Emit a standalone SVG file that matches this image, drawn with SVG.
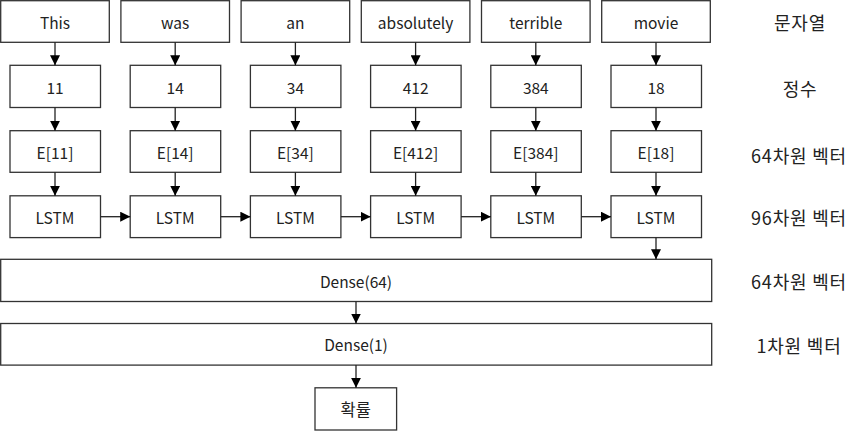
<svg xmlns="http://www.w3.org/2000/svg" width="868" height="431" viewBox="0 0 868 431">
  <style>
    .box { fill: #ffffff; stroke: #333333; stroke-width: 1.3; }
    .lbl { font-family: "Noto Sans CJK KR", "Noto Sans", "Liberation Sans", sans-serif; font-size: 15.5px; fill: #222222; text-anchor: middle; dominant-baseline: central; }
    .side { font-family: "Noto Sans CJK KR", "Noto Sans", sans-serif; font-size: 18px; letter-spacing: 0.8px; fill: #222222; text-anchor: middle; dominant-baseline: central; }
    .edge { stroke: #222222; stroke-width: 1.3; fill: none; marker-end: url(#head); }
  </style>
  <defs>
    <marker id="head" markerUnits="userSpaceOnUse" viewBox="0 0 10 10" refX="10" refY="5" markerWidth="10" markerHeight="10" orient="auto">
      <path d="M0,0 L10,5 L0,10 z" fill="#000000"/>
    </marker>
  </defs>

  <rect width="868" height="431" fill="#ffffff"/>

  <!-- word row -->
  <g id="w0"><rect class="box" x="0.7" y="0.7" width="108.6" height="41.6"/><text class="lbl" x="55" y="21.5">This</text></g>
  <g id="w1"><rect class="box" x="120.9" y="0.7" width="108.6" height="41.6"/><text class="lbl" x="175.2" y="21.5">was</text></g>
  <g id="w2"><rect class="box" x="241.1" y="0.7" width="108.6" height="41.6"/><text class="lbl" x="295.4" y="21.5">an</text></g>
  <g id="w3"><rect class="box" x="361.3" y="0.7" width="108.6" height="41.6"/><text class="lbl" x="415.6" y="21.5">absolutely</text></g>
  <g id="w4"><rect class="box" x="481.5" y="0.7" width="108.6" height="41.6"/><text class="lbl" x="535.8" y="21.5">terrible</text></g>
  <g id="w5"><rect class="box" x="601.7" y="0.7" width="108.6" height="41.6"/><text class="lbl" x="656" y="21.5">movie</text></g>

  <!-- integer row -->
  <g id="n0"><rect class="box" x="10" y="65.3" width="90.5" height="42.2"/><text class="lbl" x="55" y="86.5">11</text></g>
  <g id="n1"><rect class="box" x="130.2" y="65.3" width="90.5" height="42.2"/><text class="lbl" x="175.2" y="86.5">14</text></g>
  <g id="n2"><rect class="box" x="250.4" y="65.3" width="90.5" height="42.2"/><text class="lbl" x="295.4" y="86.5">34</text></g>
  <g id="n3"><rect class="box" x="370.6" y="65.3" width="90.5" height="42.2"/><text class="lbl" x="415.6" y="86.5">412</text></g>
  <g id="n4"><rect class="box" x="490.8" y="65.3" width="90.5" height="42.2"/><text class="lbl" x="535.8" y="86.5">384</text></g>
  <g id="n5"><rect class="box" x="611" y="65.3" width="90.5" height="42.2"/><text class="lbl" x="656" y="86.5">18</text></g>

  <!-- embedding row -->
  <g id="e0"><rect class="box" x="10" y="130.7" width="90.5" height="41.6"/><text class="lbl" x="55" y="151.5">E[11]</text></g>
  <g id="e1"><rect class="box" x="130.2" y="130.7" width="90.5" height="41.6"/><text class="lbl" x="175.2" y="151.5">E[14]</text></g>
  <g id="e2"><rect class="box" x="250.4" y="130.7" width="90.5" height="41.6"/><text class="lbl" x="295.4" y="151.5">E[34]</text></g>
  <g id="e3"><rect class="box" x="370.6" y="130.7" width="90.5" height="41.6"/><text class="lbl" x="415.6" y="151.5">E[412]</text></g>
  <g id="e4"><rect class="box" x="490.8" y="130.7" width="90.5" height="41.6"/><text class="lbl" x="535.8" y="151.5">E[384]</text></g>
  <g id="e5"><rect class="box" x="611" y="130.7" width="90.5" height="41.6"/><text class="lbl" x="656" y="151.5">E[18]</text></g>

  <!-- LSTM row -->
  <g id="l0"><rect class="box" x="10" y="195.8" width="90.5" height="41.8"/><text class="lbl" x="55" y="216.7">LSTM</text></g>
  <g id="l1"><rect class="box" x="130.2" y="195.8" width="90.5" height="41.8"/><text class="lbl" x="175.2" y="216.7">LSTM</text></g>
  <g id="l2"><rect class="box" x="250.4" y="195.8" width="90.5" height="41.8"/><text class="lbl" x="295.4" y="216.7">LSTM</text></g>
  <g id="l3"><rect class="box" x="370.6" y="195.8" width="90.5" height="41.8"/><text class="lbl" x="415.6" y="216.7">LSTM</text></g>
  <g id="l4"><rect class="box" x="490.8" y="195.8" width="90.5" height="41.8"/><text class="lbl" x="535.8" y="216.7">LSTM</text></g>
  <g id="l5"><rect class="box" x="611" y="195.8" width="90.5" height="41.8"/><text class="lbl" x="656" y="216.7">LSTM</text></g>

  <!-- dense layers and output -->
  <g id="dense64"><rect class="box" x="0.7" y="259.3" width="711" height="42.2"/><text class="lbl" x="356" y="280.5">Dense(64)</text></g>
  <g id="dense1"><rect class="box" x="0.7" y="323.5" width="711" height="41.6"/><text class="lbl" x="356" y="344.3">Dense(1)</text></g>
  <g id="prob"><rect class="box" x="315" y="387.8" width="81.6" height="42.2"/><text class="lbl" x="355.8" y="408.8" style="font-size:16.5px">확률</text></g>

  <!-- side annotations -->
  <g id="annotations">
    <text class="side" x="800" y="22">문자열</text>
    <text class="side" x="800" y="88">정수</text>
    <text class="side" x="799" y="155">64차원 벡터</text>
    <text class="side" x="799" y="217">96차원 벡터</text>
    <text class="side" x="799" y="281">64차원 벡터</text>
    <text class="side" x="799" y="345">1차원 벡터</text>
  </g>

  <!-- connectors -->
  <g id="connectors">
    <!-- word to integer -->
    <line class="edge" x1="55" y1="42.3" x2="55" y2="65.3"/>
    <line class="edge" x1="175.2" y1="42.3" x2="175.2" y2="65.3"/>
    <line class="edge" x1="295.4" y1="42.3" x2="295.4" y2="65.3"/>
    <line class="edge" x1="415.6" y1="42.3" x2="415.6" y2="65.3"/>
    <line class="edge" x1="535.8" y1="42.3" x2="535.8" y2="65.3"/>
    <line class="edge" x1="656" y1="42.3" x2="656" y2="65.3"/>
    <!-- integer to embedding -->
    <line class="edge" x1="55" y1="107.5" x2="55" y2="130.7"/>
    <line class="edge" x1="175.2" y1="107.5" x2="175.2" y2="130.7"/>
    <line class="edge" x1="295.4" y1="107.5" x2="295.4" y2="130.7"/>
    <line class="edge" x1="415.6" y1="107.5" x2="415.6" y2="130.7"/>
    <line class="edge" x1="535.8" y1="107.5" x2="535.8" y2="130.7"/>
    <line class="edge" x1="656" y1="107.5" x2="656" y2="130.7"/>
    <!-- embedding to LSTM -->
    <line class="edge" x1="55" y1="172.3" x2="55" y2="195.8"/>
    <line class="edge" x1="175.2" y1="172.3" x2="175.2" y2="195.8"/>
    <line class="edge" x1="295.4" y1="172.3" x2="295.4" y2="195.8"/>
    <line class="edge" x1="415.6" y1="172.3" x2="415.6" y2="195.8"/>
    <line class="edge" x1="535.8" y1="172.3" x2="535.8" y2="195.8"/>
    <line class="edge" x1="656" y1="172.3" x2="656" y2="195.8"/>
    <!-- recurrent state -->
    <line class="edge" x1="100.5" y1="216.7" x2="130.2" y2="216.7"/>
    <line class="edge" x1="220.7" y1="216.7" x2="250.4" y2="216.7"/>
    <line class="edge" x1="340.9" y1="216.7" x2="370.6" y2="216.7"/>
    <line class="edge" x1="461.1" y1="216.7" x2="490.8" y2="216.7"/>
    <line class="edge" x1="581.3" y1="216.7" x2="611" y2="216.7"/>
    <!-- head -->
    <line class="edge" x1="656" y1="237.6" x2="656" y2="259.3"/>
    <line class="edge" x1="356" y1="301.5" x2="356" y2="323.5"/>
    <line class="edge" x1="356" y1="365.1" x2="356" y2="387.8"/>
  </g>
</svg>
